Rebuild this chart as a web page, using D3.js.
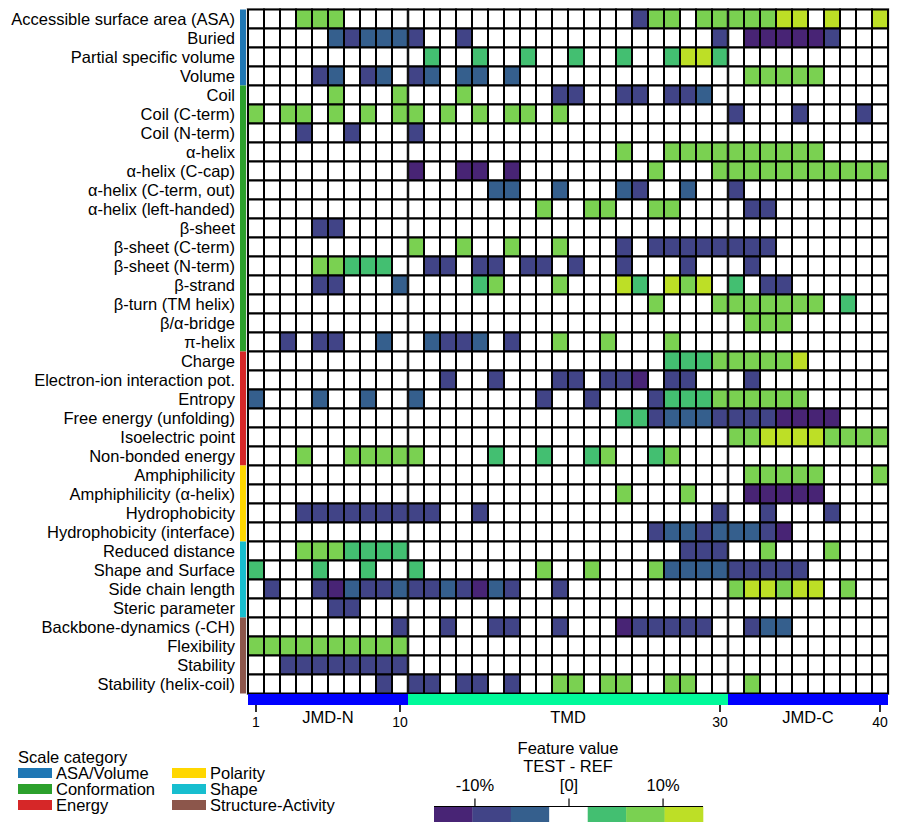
<!DOCTYPE html>
<html>
<head>
<meta charset="utf-8">
<script src="https://cdn.jsdelivr.net/npm/d3@7"></script>
<style>
body { margin: 0; background: #fff; }
svg text { font-family: "Liberation Sans", Arial, sans-serif; fill: #000; }
</style>
</head>
<body>
<svg id="chart" width="898" height="832"></svg>
<script>
// row labels (scales), top to bottom
var features = [
    "Accessible surface area (ASA)", "Buried", "Partial specific volume", "Volume",
    "Coil", "Coil (C-term)", "Coil (N-term)", "α-helix", "α-helix (C-cap)",
    "α-helix (C-term, out)", "α-helix (left-handed)", "β-sheet", "β-sheet (C-term)",
    "β-sheet (N-term)", "β-strand", "β-turn (TM helix)", "β/α-bridge", "π-helix",
    "Charge", "Electron-ion interaction pot.", "Entropy", "Free energy (unfolding)",
    "Isoelectric point", "Non-bonded energy",
    "Amphiphilicity", "Amphiphilicity (α-helix)", "Hydrophobicity", "Hydrophobicity (interface)",
    "Reduced distance", "Shape and Surface", "Side chain length", "Steric parameter",
    "Backbone-dynamics (-CH)", "Flexibility", "Stability", "Stability (helix-coil)"
];

var featureCategory = [
    "ASA/Volume", "ASA/Volume", "ASA/Volume", "ASA/Volume",
    "Conformation", "Conformation", "Conformation", "Conformation", "Conformation",
    "Conformation", "Conformation", "Conformation", "Conformation", "Conformation",
    "Conformation", "Conformation", "Conformation", "Conformation",
    "Energy", "Energy", "Energy", "Energy", "Energy", "Energy",
    "Polarity", "Polarity", "Polarity", "Polarity",
    "Shape", "Shape", "Shape", "Shape",
    "Structure-Activity", "Structure-Activity", "Structure-Activity", "Structure-Activity"
];

var categories = ["ASA/Volume", "Conformation", "Energy", "Polarity", "Shape", "Structure-Activity"];
var categoryColors = ["#1f77b4", "#2ca02c", "#d62728", "#ffd700", "#17becf", "#8c564b"];

// binned feature value (TEST - REF) per residue position 1..40
var values = [
    [0,0,0,2,2,2,0,0,0,0, 0,0,0,0,0,0,0,0,0,0, 0,0,0,0,-2,2,2,0,2,2, 2,2,2,3,3,0,3,0,0,3],
    [0,0,0,0,0,-1,-2,-1,-1,-1, -2,0,0,-2,0,0,0,0,0,0, 0,0,0,0,0,0,0,0,0,-2, 0,-3,-3,-3,-3,-3,-2,0,0,0],
    [0,0,0,0,0,0,0,0,0,0, 0,1,0,0,1,0,0,1,0,0, 1,0,0,1,0,0,1,3,3,1, 0,0,0,0,0,0,0,0,0,0],
    [0,0,0,0,-2,-1,0,-2,-1,0, -2,-1,0,-1,-1,0,-1,0,0,0, 0,0,0,0,0,0,0,0,0,0, 0,2,2,2,2,2,0,0,0,0],
    [0,0,0,0,0,2,0,0,0,2, 0,0,0,2,0,0,0,0,0,-2, -2,0,0,-2,-2,0,-2,-2,-1,0, 0,0,0,0,0,0,0,0,0,0],
    [2,0,2,2,0,2,0,2,0,2, 2,0,2,0,2,0,2,2,0,2, 0,0,0,0,0,0,0,0,0,0, -2,0,0,0,-2,0,0,0,-2,0],
    [0,0,0,-2,0,0,-2,0,0,0, -2,0,0,0,0,0,0,0,0,0, 0,0,0,0,0,0,0,0,0,0, 0,0,0,0,0,0,0,0,0,0],
    [0,0,0,0,0,0,0,0,0,0, 0,0,0,0,0,0,0,0,0,0, 0,0,0,2,0,0,2,2,2,2, 2,2,2,2,2,2,0,0,0,0],
    [0,0,0,0,0,0,0,0,0,0, -3,0,0,-3,-3,0,-3,0,0,0, 0,0,0,0,0,2,0,0,0,2, 2,2,2,2,2,2,2,2,2,2],
    [0,0,0,0,0,0,0,0,0,0, 0,0,0,0,0,-1,-1,0,0,-1, 0,0,0,-1,-2,0,0,-1,0,0, -2,0,0,0,0,0,0,0,0,0],
    [0,0,0,0,0,0,0,0,0,0, 0,0,0,0,0,0,0,0,2,0, 0,2,2,0,0,2,2,0,0,0, 0,-2,-2,0,0,0,0,0,0,0],
    [0,0,0,0,-2,-2,0,0,0,0, 0,0,0,0,0,0,0,0,0,0, 0,0,0,0,0,0,0,0,0,0, 0,0,0,0,0,0,0,0,0,0],
    [0,0,0,0,0,0,0,0,0,0, 2,0,0,2,0,0,2,0,0,2, 0,0,0,-2,0,-2,-2,-2,-2,-2, -2,-2,-2,0,0,0,0,0,0,0],
    [0,0,0,0,2,2,1,1,1,0, 0,-2,-2,0,-2,-2,0,-2,-2,0, -2,0,0,-2,0,0,0,-2,0,0, 0,-2,0,0,0,0,0,0,0,0],
    [0,0,0,0,-2,-2,0,0,0,-1, 0,0,0,0,1,2,0,0,0,2, 0,0,0,3,1,0,3,2,3,0, 1,0,-2,-2,0,0,0,0,0,0],
    [0,0,0,0,0,0,0,0,0,0, 0,0,0,0,0,0,0,0,0,0, 0,0,0,0,0,2,0,0,0,2, 2,2,2,2,2,2,0,1,0,0],
    [0,0,0,0,0,0,0,0,0,0, 0,0,0,0,0,0,0,0,0,0, 0,0,0,0,0,0,0,0,0,0, 0,2,2,2,0,0,0,0,0,0],
    [0,0,-2,0,-2,-2,0,0,-1,0, 0,-1,-2,-2,-1,0,-2,0,0,2, 0,0,2,0,0,0,2,0,0,0, 0,0,0,0,0,0,0,0,0,0],
    [0,0,0,0,0,0,0,0,0,0, 0,0,0,0,0,0,0,0,0,0, 0,0,0,0,0,0,1,1,1,2, 2,2,2,2,3,0,0,0,0,0],
    [0,0,0,0,0,0,0,0,0,0, 0,0,-2,0,0,-2,0,0,0,-2, -2,0,-2,-2,-3,0,-2,-2,0,0, 0,-2,0,0,0,0,0,0,0,0],
    [-1,0,0,0,-1,0,0,-1,0,0, -1,0,0,0,0,0,0,0,-2,0, 0,-2,0,0,0,-2,1,1,1,2, 2,2,2,2,2,0,0,0,0,0],
    [0,0,0,0,0,0,0,0,0,0, 0,0,0,0,0,0,0,0,0,0, 0,0,0,1,1,-2,-1,-1,-1,-2, -2,-2,-2,-3,-3,-3,-3,0,0,0],
    [0,0,0,0,0,0,0,0,0,0, 0,0,0,0,0,0,0,0,0,0, 0,0,0,0,0,0,0,0,0,0, 2,2,3,3,3,3,2,2,2,2],
    [0,0,0,2,0,0,2,2,2,2, 2,0,0,0,0,1,0,0,1,0, 0,1,2,0,0,1,2,0,0,0, 0,0,0,0,0,0,0,0,0,0],
    [0,0,0,0,0,0,0,0,0,0, 0,0,0,0,0,0,0,0,0,0, 0,0,0,0,0,0,0,0,0,0, 0,2,2,2,2,2,0,0,0,2],
    [0,0,0,0,0,0,0,0,0,0, 0,0,0,0,0,0,0,0,0,0, 0,0,0,2,0,0,0,2,0,0, 0,-3,-3,-3,-3,-3,0,0,0,0],
    [0,0,0,-2,-2,-2,-2,-2,-2,-2, -2,-2,0,0,-2,0,0,0,0,0, 0,0,0,0,0,0,0,0,0,-2, 0,0,-2,0,0,0,-2,0,0,0],
    [0,0,0,0,0,0,0,0,0,0, 0,0,0,0,0,0,0,0,0,0, 0,0,0,0,0,-2,-1,-1,-2,-1, -1,-1,-2,-3,0,0,0,0,0,0],
    [0,0,0,2,2,2,1,1,1,1, 0,0,0,0,0,0,0,0,0,0, 0,0,0,0,0,0,0,-2,-2,-2, 0,0,2,0,0,0,2,0,0,0],
    [1,0,0,0,1,0,0,1,0,0, 1,0,0,0,0,0,0,0,2,0, 0,2,0,0,0,2,-1,-1,-1,-1, -2,-2,-2,-2,-2,0,0,0,0,0],
    [0,-2,0,0,-2,-3,-1,-2,-2,-1, -2,-2,-1,-2,-3,-1,-2,0,0,-2, 0,0,0,0,0,0,0,0,0,0, 2,3,3,2,3,3,0,2,0,0],
    [0,0,0,0,0,-2,-2,0,0,0, 0,0,0,0,0,0,0,0,0,0, 0,0,0,0,0,0,0,0,0,0, 0,0,0,0,0,0,0,0,0,0],
    [0,0,0,0,0,0,0,0,0,-2, 0,0,-2,0,0,-2,-2,0,0,-2, 0,0,0,-3,-2,-2,-2,-2,-2,0, 0,-2,-1,-1,0,0,0,0,0,0],
    [2,2,2,2,2,2,2,2,2,2, 0,0,0,0,0,0,0,0,0,0, 0,0,0,0,0,0,0,0,0,0, 0,0,0,0,0,0,0,0,0,0],
    [0,0,-2,-2,-2,-2,-2,-2,-2,-2, 0,0,0,0,0,0,0,0,0,0, 0,0,0,0,0,0,0,0,0,0, 0,0,0,0,0,0,0,0,0,0],
    [0,0,0,0,0,0,0,0,-2,0, -2,-2,0,-2,-2,0,-2,0,0,2, 2,0,2,2,0,0,2,2,0,0, 0,2,0,0,0,0,0,0,0,0]
];

var levels = [-3, -2, -1, 0, 1, 2, 3];
var levelColors = ["#482475", "#414487", "#355f8d", "#ffffff", "#43bf71", "#7ad151", "#bddf26"];

var positions = d3.range(1, 41);
var axisTicks = [1, 10, 30, 40];

var partNames = ["JMD-N", "TMD", "JMD-C"];
var partStart = [1, 11, 31];
var partEnd = [10, 30, 40];
var partColors = ["#0000ff", "#00fa9a", "#0000ff"];

var cbTicks = [-10, 0, 10];
var cbTickLabels = ["-10%", "[0]", "10%"];

var fontSize = 16.5;

var svg = d3.select("#chart");

var x = d3.scaleBand().domain(positions).range([248, 888]);
var y = d3.scaleBand().domain(features).range([9.5, 693.5]);
var color = d3.scaleOrdinal().domain(levels).range(levelColors);
var catColor = d3.scaleOrdinal().domain(categories).range(categoryColors);

// light frame round the grid
svg.append("rect")
    .attr("x", 247).attr("y", 8.5)
    .attr("width", 642).attr("height", 686)
    .attr("fill", "none").attr("stroke", "#c8c8c8");

// heatmap cells
var rows = svg.append("g").selectAll("g")
    .data(values)
    .enter().append("g")
    .attr("transform", function (d, i) {
        return "translate(0," + y(features[i]) + ")";
    });

rows.selectAll("rect")
    .data(function (d) { return d; })
    .enter().append("rect")
    .attr("x", function (d, j) { return x(positions[j]); })
    .attr("y", 0)
    .attr("width", x.bandwidth())
    .attr("height", y.bandwidth())
    .attr("fill", function (d) { return color(d); })
    .attr("stroke", "#000")
    .attr("stroke-width", 2);

// part separators
svg.selectAll(".sep")
    .data([partStart[1], partStart[2]])
    .enter().append("line")
    .attr("class", "sep")
    .attr("x1", function (d) { return x(d); })
    .attr("x2", function (d) { return x(d); })
    .attr("y1", y.range()[0])
    .attr("y2", y.range()[1])
    .attr("stroke", "#111")
    .attr("stroke-width", 2.5);

// row labels
svg.append("g").selectAll("text")
    .data(features)
    .enter().append("text")
    .attr("x", 235)
    .attr("y", function (d) { return y(d) + y.bandwidth() / 2 + 5.8; })
    .attr("text-anchor", "end")
    .attr("font-size", fontSize)
    .text(function (d) { return d; });

// category bar on the left
svg.append("g").selectAll("rect")
    .data(categories)
    .enter().append("rect")
    .attr("x", 240)
    .attr("width", 6)
    .attr("y", function (c) {
        return y(features[featureCategory.indexOf(c)]);
    })
    .attr("height", function (c) {
        var first = featureCategory.indexOf(c),
            last = featureCategory.lastIndexOf(c);
        return y(features[last]) + y.bandwidth() - y(features[first]);
    })
    .attr("fill", function (c) { return catColor(c); });

// part bar under the grid
svg.append("g").selectAll("rect")
    .data(partNames)
    .enter().append("rect")
    .attr("x", function (d, i) { return x(partStart[i]); })
    .attr("width", function (d, i) { return x(partEnd[i]) + x.bandwidth() - x(partStart[i]); })
    .attr("y", 694)
    .attr("height", 11)
    .attr("fill", function (d, i) { return partColors[i]; });

svg.append("g").selectAll("text")
    .data(partNames)
    .enter().append("text")
    .attr("x", function (d, i) { return (x(partStart[i]) + x(partEnd[i]) + x.bandwidth()) / 2; })
    .attr("y", 723)
    .attr("text-anchor", "middle")
    .attr("font-size", fontSize)
    .text(function (d) { return d; });

// position axis
var xAxis = d3.axisBottom(x)
    .tickValues(axisTicks)
    .tickSize(7)
    .tickSizeOuter(0);

var gx = svg.append("g")
    .attr("transform", "translate(0,705)")
    .call(xAxis);
gx.select(".domain").remove();
gx.selectAll(".tick line").attr("stroke", "#000").attr("stroke-width", 1.6);
gx.selectAll(".tick text")
    .attr("font-size", 14)
    .attr("font-family", "Liberation Sans, Arial, sans-serif")
    .attr("fill", "#000")
    .attr("dy", "0")
    .attr("y", 22);

// scale category legend
svg.append("text")
    .attr("x", 18).attr("y", 763)
    .attr("font-size", fontSize)
    .text("Scale category");

var leg = svg.append("g").selectAll("g")
    .data(categories)
    .enter().append("g")
    .attr("transform", function (d, i) {
        return "translate(" + (i < 3 ? 18 : 172) + "," + (768 + (i % 3) * 16) + ")";
    });

leg.append("rect")
    .attr("width", 34).attr("height", 10)
    .attr("fill", function (d) { return catColor(d); });

leg.append("text")
    .attr("x", 38).attr("y", 10.5)
    .attr("font-size", fontSize)
    .text(function (d) { return d; });

// colour bar
var cbX = d3.scaleLinear().domain([-14.3, 14.3]).range([434, 703]);
var cbBand = d3.scaleBand().domain(levels).range([434, 703]);

svg.append("text")
    .attr("x", 568).attr("y", 754)
    .attr("text-anchor", "middle").attr("font-size", fontSize)
    .text("Feature value");
svg.append("text")
    .attr("x", 568).attr("y", 772)
    .attr("text-anchor", "middle").attr("font-size", fontSize)
    .text("TEST - REF");

svg.append("g").selectAll("rect")
    .data(levels)
    .enter().append("rect")
    .attr("x", function (d) { return cbBand(d); })
    .attr("width", cbBand.bandwidth() + 0.3)
    .attr("y", 806.5)
    .attr("height", 15.5)
    .attr("fill", function (d) { return color(d); });

var cbAxis = d3.axisTop(cbX)
    .tickValues(cbTicks)
    .tickFormat(function (d, i) { return cbTickLabels[i]; })
    .tickSize(8)
    .tickSizeOuter(0);

var gcb = svg.append("g")
    .attr("transform", "translate(0,806.5)")
    .call(cbAxis);
gcb.select(".domain").attr("stroke", "#000").attr("d", "M434,0H703");
gcb.selectAll(".tick line").attr("stroke", "#000").attr("stroke-width", 1.2);
gcb.selectAll(".tick text")
    .attr("font-size", fontSize)
    .attr("font-family", "Liberation Sans, Arial, sans-serif")
    .attr("fill", "#000")
    .attr("dy", "0")
    .attr("y", -16);
</script>
</body>
</html>
